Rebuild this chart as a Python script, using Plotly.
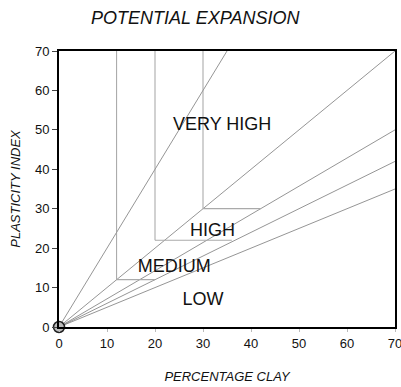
import plotly.graph_objects as go

# Boundary rays from the origin (end points)
ray_x = [35, 70, 70, 70, 70]
ray_y = [70, 70, 50, 42, 35]

# Vertical boundary segments: x, y_start, y_end
vert_x = [12, 20, 30]
vert_y0 = [12, 22, 30]
vert_y1 = [70, 70, 70]

# Horizontal boundary segments: y, x_start, x_end
hor_y = [12, 22, 30]
hor_x0 = [12, 20, 30]
hor_x1 = [20, 36, 42]

# Zone labels
zone_names = ["VERY HIGH", "HIGH", "MEDIUM", "LOW"]
zone_x = [34, 32, 24, 30]
zone_y = [51.2, 24.2, 15, 6.6]

ticks = [0, 10, 20, 30, 40, 50, 60, 70]

fig = go.Figure()
lc = "#7a7a7a"
for xe, ye in zip(ray_x, ray_y):
    fig.add_trace(go.Scatter(x=[0, xe], y=[0, ye], mode="lines",
                             line=dict(color=lc, width=0.8), showlegend=False, hoverinfo="skip"))
for xv, a, b in zip(vert_x, vert_y0, vert_y1):
    fig.add_trace(go.Scatter(x=[xv, xv], y=[a, b], mode="lines",
                             line=dict(color="#999999", width=0.9), showlegend=False, hoverinfo="skip"))
for yh, a, b in zip(hor_y, hor_x0, hor_x1):
    fig.add_trace(go.Scatter(x=[a, b], y=[yh, yh], mode="lines",
                             line=dict(color="#aaaaaa", width=1.2), showlegend=False, hoverinfo="skip"))
fig.add_trace(go.Scatter(x=zone_x, y=zone_y, mode="text", text=zone_names,
                         textfont=dict(family="Liberation Sans, Arial", size=18, color="#111"),
                         showlegend=False, hoverinfo="skip"))
fig.add_trace(go.Scatter(x=[0], y=[0], mode="markers", cliponaxis=False,
                         marker=dict(size=11, color="#bdbdbd", line=dict(color="#222", width=1.5)),
                         showlegend=False, hoverinfo="skip"))

fig.update_layout(
    width=401, height=387,
    margin=dict(l=59, r=6, t=51, b=60, autoexpand=False),
    paper_bgcolor="white", plot_bgcolor="white",
    font=dict(family="Liberation Sans, Arial", size=13, color="#111"),
    title=dict(text="<i>POTENTIAL EXPANSION</i>", x=0.487, xanchor="center",
               y=0.953, yanchor="middle", font=dict(size=18, color="#111")),
    xaxis=dict(range=[0, 70], tickvals=ticks, showgrid=False, zeroline=False,
               showline=True, linecolor="black", linewidth=2, mirror=True,
               ticks="outside", ticklen=3, tickcolor="#bbb", automargin=False,
               ticklabeloverflow="allow",
               title=dict(text="<i>PERCENTAGE CLAY</i>", font=dict(size=13), standoff=22)),
    yaxis=dict(range=[0, 70], tickvals=ticks, showgrid=False, zeroline=False,
               showline=True, linecolor="black", linewidth=2, mirror=True,
               ticks="outside", ticklen=5, tickcolor="#444", automargin=False,
               ticklabeloverflow="allow",
               title=dict(text="<i>PLASTICITY INDEX</i>", font=dict(size=13), standoff=11)),
)
fig.write_html("out.html", config={"displayModeBar": False},
               post_script="document.body.style.margin='0px';document.body.style.overflow='hidden';")
